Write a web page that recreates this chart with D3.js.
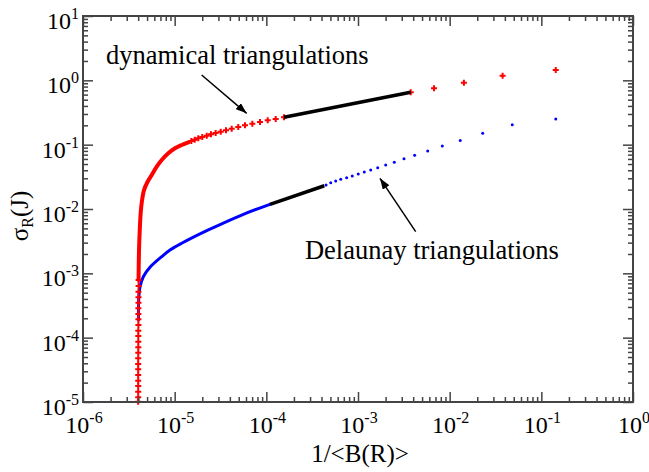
<!DOCTYPE html>
<html>
<head>
<meta charset="utf-8">
<script src="https://cdn.jsdelivr.net/npm/d3@7"></script>
<style>
  body { margin: 0; background: #fff; }
  text { font-family: "Liberation Serif", "Times New Roman", serif; fill: #000; }
</style>
</head>
<body>
<div id="chart"></div>
<script>
// dynamical triangulations: markers, column near the asymptote (bottom -> top)
const dynColX = [4.04e-6, 4.04e-6, 4.03e-6, 4.03e-6, 4.03e-6, 4.02e-6, 4.02e-6, 4.02e-6, 4.02e-6, 4.01e-6, 4.01e-6, 4.01e-6,
  4.01e-6, 4.01e-6, 4.0e-6, 4.0e-6, 4.0e-6, 4.0e-6, 4.0e-6, 4.0e-6, 4.0e-6, 4.0e-6, 4.0e-6]
const dynColY = [7.87e-4, 6.35e-4, 5.18e-4, 4.24e-4, 3.49e-4, 2.86e-4, 2.33e-4, 1.93e-4, 1.573e-4, 1.282e-4, 1.061e-4, 8.65e-5,
  7.08e-5, 5.83e-5, 4.78e-5, 3.89e-5, 3.22e-5, 2.63e-5, 2.14e-5, 1.77e-5, 1.444e-5, 1.182e-5, 1.01e-5]
// where the markers merge into a band (knee)
const dynBandX = [4.04e-6, 4.06e-6, 4.10e-6, 4.17e-6, 4.25e-6, 4.38e-6, 4.63e-6, 5.05e-6, 5.62e-6, 6.37e-6, 7.22e-6, 8.52e-6,
  1.008e-5, 1.193e-5, 1.409e-5]
const dynBandY = [7.87e-4, 1.50e-3, 2.755e-3, 5.06e-3, 8.36e-3, 0.01284, 0.0197, 0.02628, 0.0338, 0.0454, 0.0577, 0.0734,
  0.0878, 0.0988, 0.1088]
// separate markers further up
const dynX = [1.519e-5, 1.654e-5, 1.81e-5, 2.00e-5, 2.24e-5, 2.49e-5, 2.80e-5, 3.18e-5, 3.63e-5, 4.19e-5, 4.94e-5, 5.85e-5,
  7.03e-5, 8.53e-5, 1.035e-4, 1.265e-4, 1.56e-4, 3.76e-3, 6.75e-3, 0.0143, 0.0378, 0.1436]
const dynY = [0.1140, 0.1194, 0.1256, 0.1315, 0.1378, 0.1449, 0.1518, 0.1590, 0.1672, 0.1771, 0.1882, 0.1999,
  0.2117, 0.2250, 0.2391, 0.2506, 0.2662, 0.652, 0.751, 0.918, 1.18, 1.45]

// Delaunay triangulations: continuous part, then single dots
const delBandX = [4.03e-6, 4.05e-6, 4.19e-6, 4.55e-6, 5.38e-6, 7.22e-6, 8.89e-6, 1.193e-5, 2.33e-5, 5.38e-5, 1.096e-4]
const delBandY = [1.88e-4, 3.85e-4, 6.19e-4, 8.86e-4, 1.241e-3, 1.813e-3, 2.30e-3, 2.93e-3, 4.72e-3, 8.06e-3, 0.01183]
const delX = [4.48e-4, 5.04e-4, 5.71e-4, 6.48e-4, 7.52e-4, 8.66e-4, 1.007e-3, 1.171e-3, 1.375e-3, 1.64e-3, 2.004e-3,
  2.488e-3, 3.177e-3, 4.15e-3, 5.76e-3, 8.31e-3, 0.01305, 0.02292, 0.0482, 0.1436]
const delY = [0.0236, 0.0256, 0.0272, 0.0289, 0.0306, 0.0326, 0.0350, 0.0376, 0.0404, 0.0438, 0.0483,
  0.0532, 0.0605, 0.0683, 0.0797, 0.0953, 0.1161, 0.1502, 0.2043, 0.2506]

// power-law fits (black)
const fitDynX = [1.56e-4, 3.76e-3]
const fitDynY = [0.266, 0.652]
const fitDelX = [1.096e-4, 4.29e-4]
const fitDelY = [0.01183, 0.0230]

const W = 649, H = 472
const M = { l: 83, r: 16, t: 16, b: 70 }

const x = d3.scaleLog().domain([1e-6, 1]).range([M.l, W - M.r])
const y = d3.scaleLog().domain([1e-5, 10]).range([H - M.b, M.t])

const svg = d3.select('#chart').append('svg').attr('width', W).attr('height', H)

svg.append('defs').append('marker')
  .attr('id', 'ah').attr('viewBox', '0 0 11 8').attr('refX', 11).attr('refY', 4)
  .attr('markerWidth', 11).attr('markerHeight', 8).attr('markerUnits', 'userSpaceOnUse').attr('orient', 'auto')
  .append('path').attr('d', 'M0,0L11,4L0,8z').attr('fill', '#000')

const zip = (xs, ys) => xs.map((v, i) => [v, ys[i]])
const line = d3.line().x(d => x(d[0])).y(d => y(d[1]))
const smooth = d3.line().x(d => x(d[0])).y(d => y(d[1])).curve(d3.curveCatmullRom)

// Delaunay
svg.append('path').datum(zip(delBandX, delBandY)).attr('d', smooth)
  .attr('fill', 'none').attr('stroke', '#0000ff').attr('stroke-width', 3).attr('stroke-linecap', 'round')
svg.append('g').selectAll('circle').data(zip(delX, delY)).join('circle')
  .attr('cx', d => x(d[0])).attr('cy', d => y(d[1])).attr('r', 1.5).attr('fill', '#0000ff')

// dynamical
svg.append('path').datum(zip(dynBandX, dynBandY)).attr('d', smooth)
  .attr('fill', 'none').attr('stroke', '#ff0000').attr('stroke-width', 4).attr('stroke-linecap', 'round')
const cross = d3.symbol().type(d3.symbolCross).size(20)
svg.append('g').selectAll('path')
  .data(zip(dynColX, dynColY).concat(zip(dynX, dynY)))
  .join('path')
  .attr('d', cross)
  .attr('transform', d => `translate(${x(d[0])},${y(d[1])})`)
  .attr('fill', '#ff0000')

// fits
for (const [fx, fy] of [[fitDynX, fitDynY], [fitDelX, fitDelY]]) {
  svg.append('path').datum(zip(fx, fy)).attr('d', line)
    .attr('stroke', '#000').attr('stroke-width', 3.5).attr('fill', 'none')
}

// axes: ticks inside on all four sides
const isMajor = v => Math.abs(Math.log10(v) - Math.round(Math.log10(v))) < 1e-9
const xt = x.ticks(), yt = y.ticks()
const xMaj = xt.filter(isMajor), xMin = xt.filter(v => !isMajor(v))
const yMaj = yt.filter(isMajor), yMin = yt.filter(v => !isMajor(v))

const axes = [
  [d3.axisBottom(x), `translate(0,${H - M.b})`, xMaj, xMin],
  [d3.axisTop(x), `translate(0,${M.t})`, xMaj, xMin],
  [d3.axisLeft(y), `translate(${M.l},0)`, yMaj, yMin],
  [d3.axisRight(y), `translate(${W - M.r},0)`, yMaj, yMin]
]
for (const [ax, tr, maj, min] of axes) {
  for (const [vals, len] of [[maj, 10], [min, 5]]) {
    const g = svg.append('g').attr('transform', tr)
      .call(ax.tickValues(vals).tickSize(-len).tickFormat(''))
    g.select('.domain').remove()
    g.selectAll('line').attr('stroke', '#444').attr('stroke-width', 1.5)
  }
}
svg.append('rect').attr('x', M.l).attr('y', M.t)
  .attr('width', W - M.l - M.r).attr('height', H - M.t - M.b)
  .attr('fill', 'none').attr('stroke', '#444').attr('stroke-width', 2)

const pow = (sel, v) => {
  sel.append('tspan').text('10')
  sel.append('tspan').attr('font-size', 16).attr('dy', -10).text(Math.round(Math.log10(v)))
}
svg.append('g').selectAll('text').data(xMaj).join('text')
  .attr('x', d => x(d) + 1).attr('y', H - M.b + 31).attr('text-anchor', 'middle').attr('font-size', 24)
  .each(function (d) { pow(d3.select(this), d) })
svg.append('g').selectAll('text').data(yMaj).join('text')
  .attr('x', M.l - 4).attr('y', d => y(d) + 13).attr('text-anchor', 'end').attr('font-size', 24)
  .each(function (d) { pow(d3.select(this), d) })

// axis titles
svg.append('text').attr('x', (M.l + W - M.r) / 2 + 2).attr('y', 462).attr('text-anchor', 'middle')
  .attr('font-size', 25).text('1/<B(R)>')
const yl = svg.append('text').attr('transform', 'translate(28,216) rotate(-90)')
  .attr('text-anchor', 'middle').attr('font-size', 25)
yl.append('tspan').text('σ')
yl.append('tspan').attr('font-size', 16).attr('dy', 5).text('R')
yl.append('tspan').attr('dy', -5).text('(J)')

// annotations
const notes = [
  { text: 'dynamical triangulations', tx: 1.78e-6, ty: 1.79, ax: [1.97e-5, 1.21], ah: [6.1e-5, 0.307] },
  { text: 'Delaunay triangulations', tx: 2.64e-4, ty: 1.67e-3, ax: [4.26e-3, 4.44e-3], ah: [1.737e-3, 0.030] }
]
for (const n of notes) {
  svg.append('text').attr('x', x(n.tx)).attr('y', y(n.ty)).attr('font-size', 26.5).text(n.text)
  svg.append('line')
    .attr('x1', x(n.ax[0])).attr('y1', y(n.ax[1])).attr('x2', x(n.ah[0])).attr('y2', y(n.ah[1]))
    .attr('stroke', '#000').attr('stroke-width', 1.5).attr('marker-end', 'url(#ah)')
}
</script>
</body>
</html>
